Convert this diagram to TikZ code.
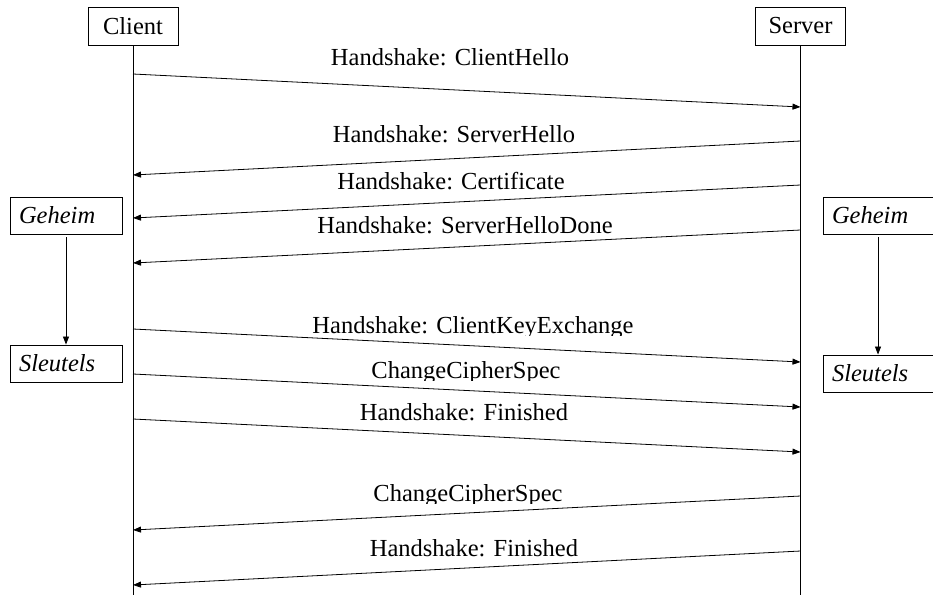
\documentclass[tikz,border=0pt]{standalone}
\usepackage{fontspec}
\setmainfont{Liberation Serif}
\usetikzlibrary{arrows.meta}
% message label, cut off just under its baseline
\newcommand\msglabel[4]{%
  \begin{scope}
    \clip (#2-220,#3+2.5) rectangle (#2+220,#3-40);
    \node[lbl] (#1) at (#2,#3) {#4};
  \end{scope}}
\begin{document}
\begin{tikzpicture}[x=1pt,y=-1pt,
  font=\fontsize{24.5}{29}\selectfont,
  actor/.style={draw,line width=0.9pt,minimum width=90pt,minimum height=38pt,inner sep=0pt},
  keybox/.style={draw,line width=0.9pt,align=left,inner xsep=9pt,inner ysep=0pt,
    minimum height=37pt,font=\fontsize{24.5}{29}\selectfont\itshape},
  life/.style={line width=0.9pt},
  msg/.style={line width=0.8pt,-{Triangle[length=8pt,width=6pt]}},
  derive/.style={line width=0.8pt,-{Triangle[length=8pt,width=6pt]},shorten <=3pt},
  lbl/.style={inner sep=0pt,anchor=base}]
\useasboundingbox (0,0) rectangle (933,595);

% participants and lifelines
\node[actor] (client) at (133,26) {Client};
\node[actor] (server) at (800.5,26) {Server};
\coordinate (cend) at (133,595);
\coordinate (send) at (800.5,595);
\draw[life] (client.south) -- (cend);
\draw[life] (server.south) -- (send);

% key derivation on both sides
\node[keybox,text width=94pt] (gl) at (66,215.5) {Geheim};
\node[keybox,text width=94pt] (sl) at (66,363.5) {Sleutels};
\node[keybox,text width=92pt] (gr) at (878,215.5) {Geheim};
\node[keybox,text width=92pt] (sr) at (878,373.5) {Sleutels};
\draw[derive] (gl.south) -- (sl.north);
\draw[derive] (gr.south) -- (sr.north);

% message end points on the lifelines
\foreach \n/\cy/\sy in {1/74/107, 2/175/141, 3/218/185, 4/263/230,
                        5/329/362, 6/374/407, 7/419/452, 8/530/496, 9/585/551}{
  \coordinate (c\n) at (133,\cy);
  \coordinate (s\n) at (800.5,\sy);
}

% messages
\draw[msg] (c1) -- (s1);
\draw[msg] (s2) -- (c2);
\draw[msg] (s3) -- (c3);
\draw[msg] (s4) -- (c4);
\draw[msg] (c5) -- (s5);
\draw[msg] (c6) -- (s6);
\draw[msg] (c7) -- (s7);
\draw[msg] (s8) -- (c8);
\draw[msg] (s9) -- (c9);

\msglabel{l1}{450}{65}{Handshake: ClientHello}
\msglabel{l2}{454}{142}{Handshake: ServerHello}
\msglabel{l3}{451}{189}{Handshake: Certificate}
\msglabel{l4}{465}{233}{Handshake: ServerHelloDone}
\msglabel{l5}{473}{333}{Handshake: ClientKeyExchange}
\msglabel{l6}{466}{378}{ChangeCipherSpec}
\msglabel{l7}{464}{420}{Handshake: Finished}
\msglabel{l8}{468}{501}{ChangeCipherSpec}
\msglabel{l9}{474}{556}{Handshake: Finished}
\end{tikzpicture}
\end{document}
